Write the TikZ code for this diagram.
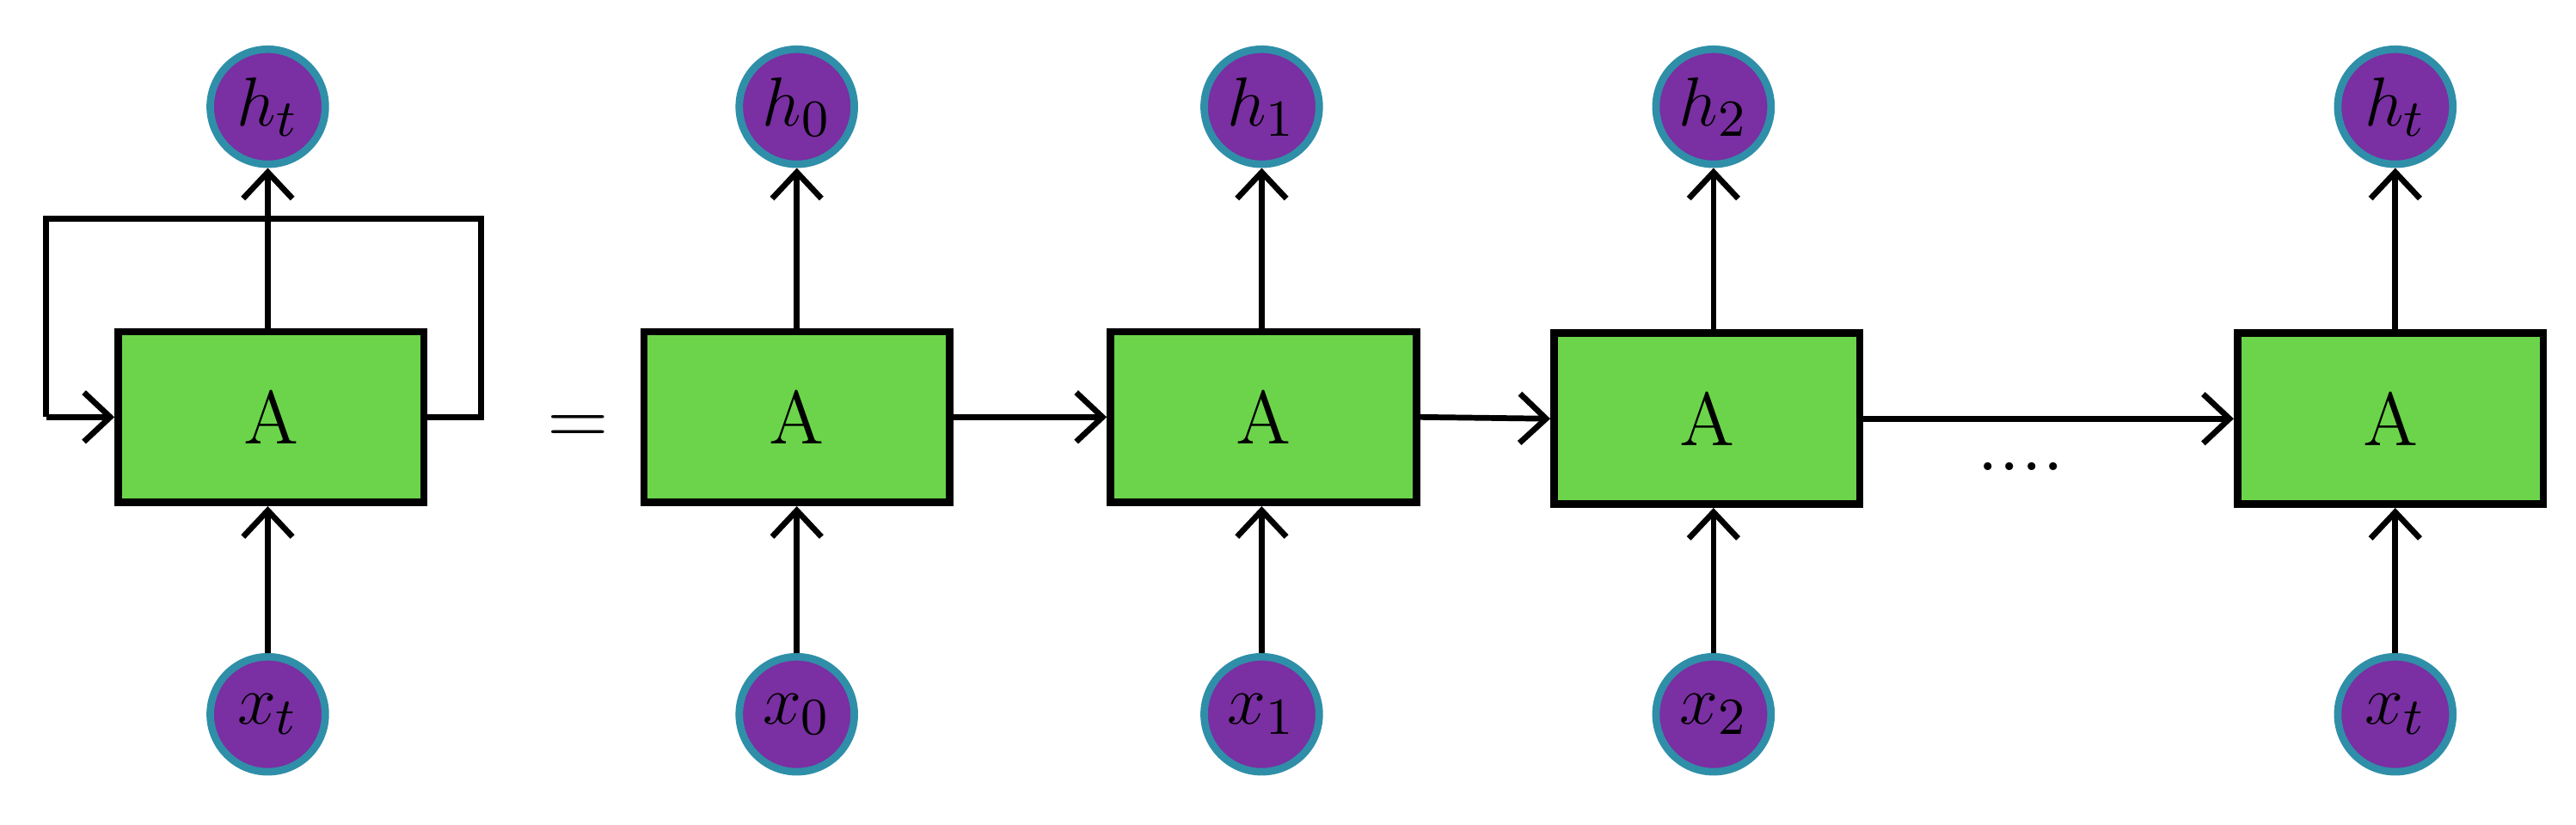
\documentclass[tikz,border=0pt]{standalone}
\usetikzlibrary{arrows.meta}
\definecolor{boxg}{HTML}{6CD44A}
\definecolor{purp}{HTML}{7A2FA2}
\definecolor{ring}{HTML}{2F8FA8}
\begin{document}
\begin{tikzpicture}[x=0.01cm,y=-0.01cm,
  box/.style={draw=black,line width=1.3pt,fill=boxg,minimum width=1.86cm,minimum height=1.04cm,inner sep=0pt,font=\fontsize{13}{15}\selectfont},
  circ/.style={circle,draw=ring,line width=1.3pt,fill=purp,minimum size=0.7cm,inner sep=0pt,font=\fontsize{13}{15}\selectfont},
  arr/.style={line width=1pt,-{Straight Barb[length=1.6mm,width=3mm,line width=1pt]}}]
\useasboundingbox (0,0) rectangle (1568,502);
\foreach \n/\x/\y/\s in {1/165/254/t,2/485/254/0,3/769/254/1,4/1039/255/2,5/1455/255/t}{
  \node[box] (b\n) at (\x,\y) {A};
}
\foreach \n/\x/\s in {1/163/t,2/485/0,3/768/1,4/1043/2,5/1458/t}{
  \node[circ] (h\n) at (\x,65) {$h_{\s}$};
  \node[circ] (x\n) at (\x,435) {$x_{\s}$};
  \draw[arr] (x\n) -- (x\n |- b\n.south);
  \draw[line width=1pt] (b\n.north -| h\n) -- (h\n|-0,198);
  \draw[arr] (h\n|-0,198) -- (h\n);
}
\coordinate (lr) at (293,133);
\coordinate (ll) at (28,133);
\draw[line width=1pt] (b1.east) -- (b1.east -| lr) -- (lr) -- (ll) -- (ll |- b1.west);
\draw[arr] (ll |- b1.west) -- (b1.west);
\draw[arr] (b2.east) -- (b3.west);
\draw[arr] (b3.east) -- (b4.west);
\draw[arr] (b4.east) -- (b5.west);
\node (eq) at (352,262) {\fontsize{14}{16}\selectfont =};
\node (dots) at (1230,284) {\fontsize{14}{16}\selectfont ....};
\end{tikzpicture}
\end{document}
